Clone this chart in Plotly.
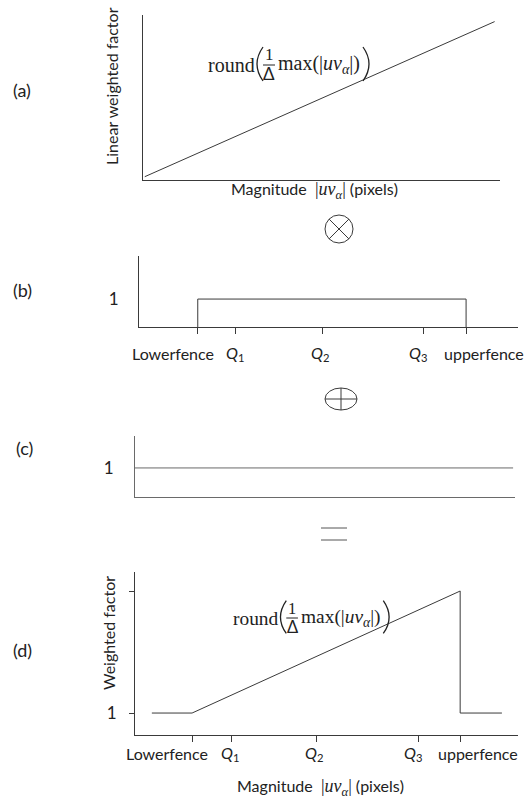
import plotly.graph_objects as go

W, H = 525, 799

# ---------------- data ----------------
# Panel (a): linear weighted factor vs magnitude
a_x = [0.5, 98.5]
a_y = [2.0, 96.0]

# Panel (b): box indicator (1 between lower and upper fence)
b_pos = [15.5, 25.5, 48.5, 75.0, 86.3]          # Lowerfence, Q1, Q2, Q3, upperfence
b_x = [b_pos[0], b_pos[0], b_pos[4], b_pos[4]]
b_y = [0, 1, 1, 0]

# Panel (c): constant 1
c_x = [0, 99.5]
c_y = [1, 1]

# Panel (d): weighted factor
d_pos = [14.9, 25.1, 47.5, 73.9, 84.9]          # Lowerfence, Q1, Q2, Q3, upperfence
d_x = [4.4, d_pos[0], d_pos[4], d_pos[4], 95.8]
d_y = [1, 1, 6, 1, 1]
d_ytick = [1, 6]
d_yticktext = ["1", ""]

tick_labels = ["Lowerfence", "<i>Q</i><sub>1</sub>", "<i>Q</i><sub>2</sub>",
               "<i>Q</i><sub>3</sub>", "upperfence"]

# ---------------- helpers ----------------
def px(x):
    return x / W

def py(y):
    return 1 - y / H

LINE = "#3a3a3a"
TXT = "#222222"
SANS = "Lato"
SERIF = "Liberation Serif"

fig = go.Figure()
fig.add_trace(go.Scatter(x=a_x, y=a_y, mode="lines", line=dict(color=LINE, width=1),
                         xaxis="x", yaxis="y", showlegend=False, hoverinfo="skip"))
fig.add_trace(go.Scatter(x=b_x, y=b_y, mode="lines", line=dict(color=LINE, width=1),
                         xaxis="x2", yaxis="y2", showlegend=False, hoverinfo="skip"))
fig.add_trace(go.Scatter(x=c_x, y=c_y, mode="lines", line=dict(color="#6a6a6a", width=1),
                         xaxis="x3", yaxis="y3", showlegend=False, hoverinfo="skip"))
fig.add_trace(go.Scatter(x=d_x, y=d_y, mode="lines", line=dict(color=LINE, width=1),
                         xaxis="x4", yaxis="y4", showlegend=False, hoverinfo="skip"))

ax_common = dict(showgrid=False, zeroline=False, showline=True, linecolor=LINE,
                 linewidth=1, fixedrange=True)

fig.update_layout(
    width=W, height=H, margin=dict(l=0, r=0, t=0, b=0),
    paper_bgcolor="white", plot_bgcolor="white",
    font=dict(family=SANS, size=16, color=TXT),
    xaxis=dict(domain=[px(143), px(500)], range=[0, 100], anchor="y",
               showticklabels=False, ticks="", **ax_common),
    yaxis=dict(domain=[py(180), py(15)], range=[0, 100], anchor="x",
               showticklabels=False, ticks="", **ax_common),
    xaxis2=dict(domain=[px(139), px(518)], range=[0, 100], anchor="y2",
                tickvals=b_pos, ticks="outside", ticklen=6, tickcolor=LINE,
                showticklabels=False, **ax_common),
    yaxis2=dict(domain=[py(327), py(256)], range=[0, 2.54], anchor="x2",
                tickvals=[1], ticktext=["1"], ticks="outside", ticklen=16,
                tickcolor="rgba(0,0,0,0)", tickfont=dict(size=17), **ax_common),
    xaxis3=dict(domain=[px(135), px(515)], range=[0, 100], anchor="y3",
                showticklabels=False, ticks="", **ax_common),
    yaxis3=dict(domain=[py(497), py(436)], range=[0, 2.1], anchor="x3",
                tickvals=[1], ticktext=["1"], ticks="outside", ticklen=17,
                tickcolor="rgba(0,0,0,0)", tickfont=dict(size=17), **ax_common),
    xaxis4=dict(domain=[px(135), px(518)], range=[0, 100], anchor="y4",
                tickvals=d_pos, ticks="outside", ticklen=6, tickcolor=LINE,
                showticklabels=False, **ax_common),
    yaxis4=dict(domain=[py(735), py(572)], range=[0.1, 6.78], anchor="x4",
                tickvals=d_ytick, ticktext=d_yticktext, ticks="outside", ticklen=5,
                tickcolor=LINE, ticklabelstandoff=9, tickfont=dict(size=17), **ax_common),
)
fig.layout.xaxis3.linecolor = "#6a6a6a"
fig.layout.yaxis3.linecolor = "#6a6a6a"

ann = []
shapes = []

def text(t, x, y, size=16, family=SANS, xanchor="center", yanchor="middle", angle=0):
    ann.append(dict(text=t, x=px(x), y=py(y), xref="paper", yref="paper",
                    showarrow=False, xanchor=xanchor, yanchor=yanchor, textangle=angle,
                    font=dict(size=size, family=family, color=TXT)))

# panel letters
text("(a)", 22, 90, size=18)
text("(b)", 22, 290, size=18)
text("(c)", 24, 448, size=18)
text("(d)", 22, 650, size=18)

# axis titles
mag = ('Magnitude  <span style="font-family:Liberation Serif;font-size:18px">|<i>uv</i>'
       '<sub><i>α</i></sub>|</span> (pixels)')
text(mag, 314, 190, size=16)
text(mag, 320, 787, size=16)
text("Linear weighted factor", 112, 86, size=16, angle=-90)
text("Weighted factor", 108, 633, size=16, angle=-90)

# x tick labels for (b) and (d) via annotations anchored on data positions
shifts = [-25, -1, -3, -5, 18]
for lab, xv, sh in zip(tick_labels, b_pos, shifts):
    ann.append(dict(text=lab, x=xv, xref="x2", y=py(353), yref="paper", xshift=sh,
                    showarrow=False, xanchor="center", yanchor="middle",
                    font=dict(size=16, family=SANS, color=TXT)))
for lab, xv, sh in zip(tick_labels, d_pos, shifts):
    ann.append(dict(text=lab, x=xv, xref="x4", y=py(753), yref="paper", xshift=sh,
                    showarrow=False, xanchor="center", yanchor="middle",
                    font=dict(size=16, family=SANS, color=TXT)))

def path_paren(xa, xb, ytop, ymid, ybot):
    # quadratic curve: endpoints at xa, control at xb
    p = (f"M {px(xa)},{py(ytop)} Q {px(xb)},{py(ymid)} {px(xa)},{py(ybot)}")
    shapes.append(dict(type="path", xref="paper", yref="paper", path=p,
                       line=dict(color=TXT, width=1.3)))

# formula: round( 1/Δ max(|uv_α|) )
def formula(x0, ym, s):
    text("round", x0, ym + 1, size=20 * s, family=SERIF, xanchor="left")
    path_paren(x0 + 57 * s, x0 + 45 * s, ym - 17 * s, ym, ym + 17 * s)
    text("1", x0 + 63 * s, ym - 9 * s, size=17 * s, family=SERIF)
    text("Δ", x0 + 63 * s, ym + 10 * s, size=17 * s, family=SANS)
    shapes.append(dict(type="line", xref="paper", yref="paper",
                       x0=px(x0 + 57 * s), x1=px(x0 + 69 * s),
                       y0=py(ym + 1), y1=py(ym + 1), line=dict(color=TXT, width=1)))
    text("max(|<i>uv</i><sub><i>α</i></sub>|)", x0 + 70 * s, ym + 1, size=20 * s,
         family=SERIF, xanchor="left")
    path_paren(x0 + 157 * s, x0 + 169 * s, ym - 17 * s, ym, ym + 17 * s)

formula(206, 64, 1.0)
formula(231, 617, 0.97)

# operators
def line(x0, y0, x1, y1, color=LINE, w=1):
    shapes.append(dict(type="line", xref="paper", yref="paper", x0=px(x0), y0=py(y0),
                       x1=px(x1), y1=py(y1), line=dict(color=color, width=w)))

cx, cy, r = 339, 229, 14
shapes.append(dict(type="circle", xref="paper", yref="paper", x0=px(cx - r), x1=px(cx + r),
                   y0=py(cy + r), y1=py(cy - r), line=dict(color=LINE, width=1)))
d = r * 0.707
line(cx - d, cy - d, cx + d, cy + d)
line(cx - d, cy + d, cx + d, cy - d)

ex, ey, rx, ry = 341, 399, 16, 11
shapes.append(dict(type="circle", xref="paper", yref="paper", x0=px(ex - rx), x1=px(ex + rx),
                   y0=py(ey + ry), y1=py(ey - ry), line=dict(color=LINE, width=1)))
line(ex, ey - ry, ex, ey + ry)
line(ex - rx, ey, ex + rx, ey)

line(321, 528, 347, 528, color="#555")
line(321, 540, 347, 540, color="#555")

fig.update_layout(annotations=ann, shapes=shapes)
fig.write_html("out.html")
